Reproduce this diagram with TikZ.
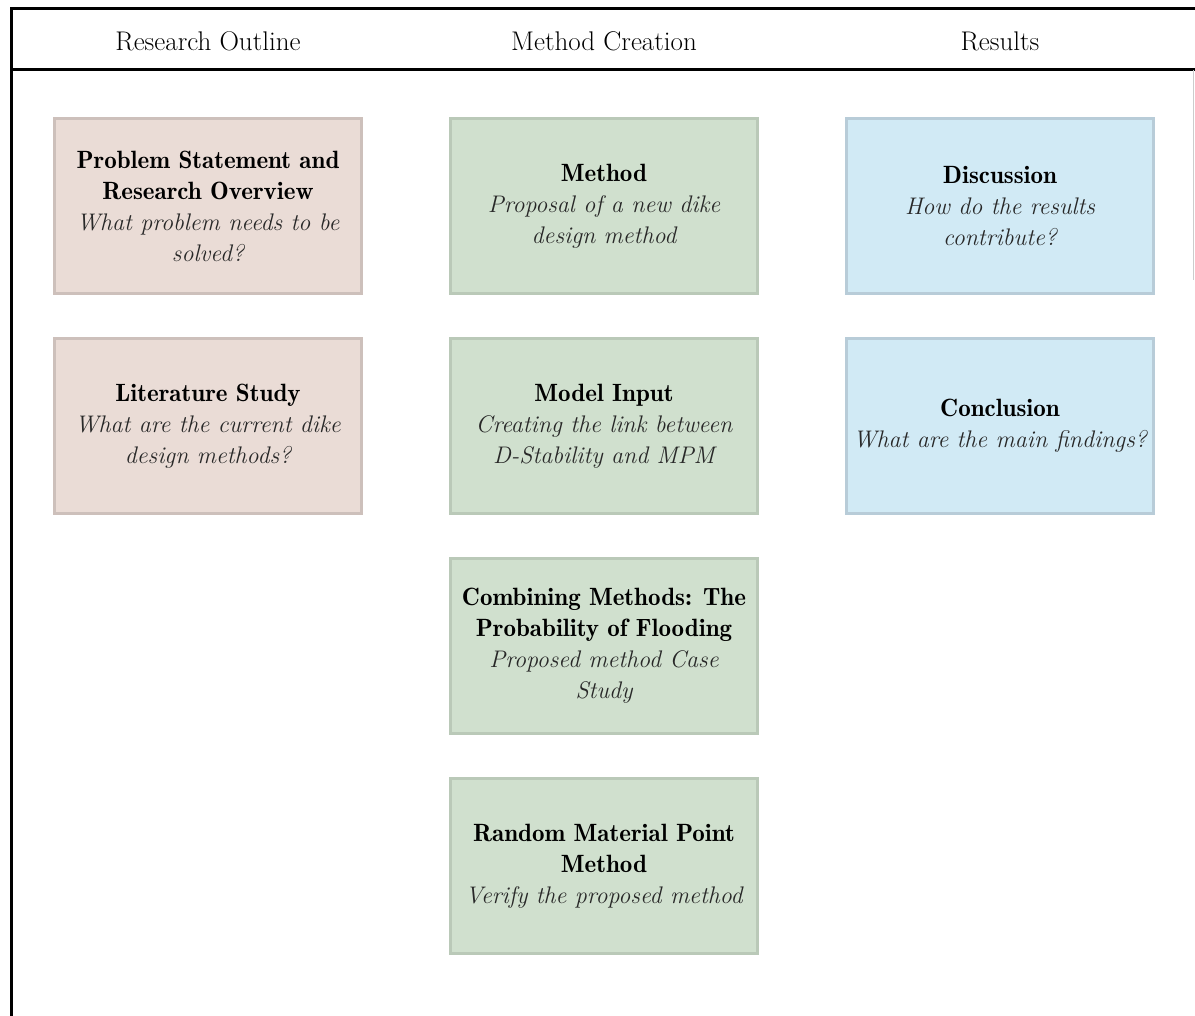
\documentclass[tikz,border=0pt]{standalone}
\definecolor{pinkfill}{RGB}{234,220,214}
\definecolor{pinkline}{RGB}{205,192,187}
\definecolor{greenfill}{RGB}{208,224,206}
\definecolor{greenline}{RGB}{186,201,184}
\definecolor{bluefill}{RGB}{209,234,245}
\definecolor{blueline}{RGB}{184,204,216}
\definecolor{subtext}{RGB}{40,40,40}
\newcommand\mydemi[1]{{\fontseries{b}\selectfont #1}}
\newcommand\mysub[1]{{\fontsize{24}{31}\selectfont\color{subtext}\itshape #1}}
\begin{document}
\begin{tikzpicture}[x=1pt,y=-1pt,
  box/.style={rectangle, line width=3pt, minimum width=307pt, minimum height=175pt,
    inner sep=0pt, align=center, font=\fontsize{25}{31}\selectfont, text=black},
  pinkbox/.style={box, fill=pinkfill, draw=pinkline},
  greenbox/.style={box, fill=greenfill, draw=greenline},
  bluebox/.style={box, fill=bluefill, draw=blueline},
  head/.style={font=\fontsize{27}{31}\selectfont, text=black},
  frame/.style={line width=3pt, black}]
\useasboundingbox (0,0) rectangle (1195,1016);
\fill[white] (0,0) rectangle (1195,1016);
% frame
\coordinate (tl) at (11,9);
\coordinate (tr) at (1195,9);
\coordinate (hl) at (11,70);
\coordinate (hr) at (1195,70);
\coordinate (bl) at (11,1016);
\coordinate (rt) at (1193,70);
\coordinate (rb) at (1193,280);
\draw[frame] (tr) -- (tl) -- (bl);
\draw[frame] (hl) -- (hr);
\draw[gray!40, line width=1pt] (rt) -- (rb);
% headers
\node[head] (h1) at (208,41) {Research Outline};
\node[head] (h2) at (604,41) {Method Creation};
\node[head] (h3) at (1000,41) {Results};
% column 1
\node[pinkbox] (ps) at (208,206) {\mydemi{Problem Statement and}\\\mydemi{Research Overview}\\\mysub{What problem needs to be}\\\mysub{solved?}};
\node[pinkbox] (lit) at (208,426) {\mydemi{Literature Study}\\\mysub{What are the current dike}\\\mysub{design methods?}};
% column 2
\node[greenbox] (meth) at (604,206) {\mydemi{Method}\\\mysub{Proposal of a new dike}\\\mysub{design method}};
\node[greenbox] (mi) at (604,426) {\mydemi{Model Input}\\\mysub{Creating the link between}\\\mysub{D-Stability and MPM}};
\node[greenbox] (comb) at (604,646) {\mydemi{Combining Methods: The}\\\mydemi{Probability of Flooding}\\\mysub{Proposed method Case}\\\mysub{Study}};
\node[greenbox] (rmpm) at (604,866) {\mydemi{Random Material Point}\\\mydemi{Method}\\\mysub{Verify the proposed method}};
% column 3
\node[bluebox] (disc) at (1000,206) {\mydemi{Discussion}\\\mysub{How do the results}\\\mysub{contribute?}};
\node[bluebox] (conc) at (1000,426) {\mydemi{Conclusion}\\\mysub{What are the main findings?}};
\end{tikzpicture}
\end{document}
